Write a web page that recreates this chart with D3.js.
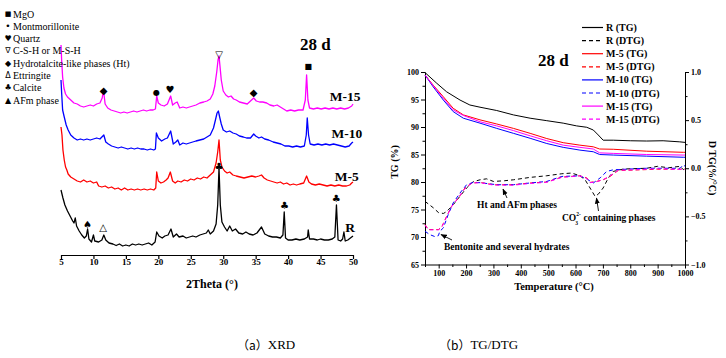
<!DOCTYPE html>
<html><head><meta charset="utf-8">
<script src="https://cdn.jsdelivr.net/npm/d3@7"></script>
<style>
body{margin:0;background:#fff;}
svg{display:block;font-family:"Liberation Serif","Times New Roman",serif;}
</style></head>
<body><svg id="c" width="726" height="358"></svg>
<script>
// ---------------- XRD data (2Theta, stacked intensity a.u.) ----------------
const xrdTicks = [5,10,15,20,25,30,35,40,45,50];
const xrdR = [[5.0,65],[5.3,57],[5.6,50],[6.0,44],[6.4,39],[6.8,34],[7.0,32],[7.2,37],[7.4,29],[7.8,24],[8.2,20],[8.6,17],[8.9,19],[9.1,26],[9.3,16],[9.7,13],[10.0,20],[10.2,14],[10.8,13],[11.3,15],[11.6,20],[11.9,15],[12.4,12],[13.0,11],[13.5,9.5],[14.0,11],[14.5,9],[15.0,10],[15.5,9],[16.0,11],[16.5,10],[17.0,11],[17.5,10],[18.0,11],[18.5,12],[19.0,10],[19.5,13],[19.75,23],[20.1,19],[20.6,17],[21.0,19],[21.5,20],[21.95,26],[22.3,18],[22.8,21],[23.2,18],[23.8,19],[24.3,17],[24.8,18],[25.3,19],[25.8,18],[26.4,20],[26.9,21],[27.4,22],[27.7,25],[28.0,21],[28.5,24],[28.9,31],[29.15,50],[29.35,87],[29.55,50],[29.8,33],[30.2,28],[30.6,24],[31.0,29],[31.4,24],[31.9,26],[32.4,22],[33.0,21],[33.5,23],[34.0,21],[34.6,20],[35.2,22],[35.9,28],[36.4,21],[37.0,19],[37.6,18],[38.2,18],[38.8,17],[39.2,20],[39.4,43],[39.6,17],[40.0,15],[40.6,15],[41.2,16],[41.8,15],[42.5,16],[43.0,18],[43.1,25],[43.3,16],[43.9,16],[44.5,15],[45.0,16],[45.6,15],[46.2,15],[46.8,16],[47.2,18],[47.45,50],[47.7,15],[48.1,14],[48.4,16],[48.6,23],[48.8,14],[49.2,15],[49.6,17],[50.0,19]];
const xrdM5 = [[5.0,128],[5.15,120],[5.3,105],[5.5,95],[5.7,88],[5.9,85],[6.1,81],[6.5,78],[7.0,76],[7.5,74],[8.0,73],[8.5,75],[9.0,73],[9.5,74],[10.0,72],[10.5,73],[10.8,69],[11.3,68],[11.8,69],[12.3,67],[12.8,68],[13.3,66],[13.8,67],[14.3,65],[14.8,67],[15.3,65],[15.8,66],[16.3,65],[16.8,66],[17.3,65],[17.8,66],[18.3,65],[18.8,66],[19.3,65],[19.6,67],[19.75,83],[20.0,74],[20.4,72],[20.8,73],[21.2,75],[21.5,77],[21.85,83],[22.2,74],[22.6,72],[23.0,74],[23.5,73],[24.0,75],[24.5,74],[25.0,76],[25.5,75],[26.0,77],[26.5,76],[27.0,78],[27.5,77],[28.0,80],[28.5,83],[28.9,92],[29.15,103],[29.35,115],[29.55,95],[29.8,88],[30.2,84],[30.6,82],[31.0,83],[31.5,80],[32.0,79],[32.6,78],[33.2,77],[33.8,78],[34.4,79],[35.0,78],[35.5,79],[35.9,80],[36.3,77],[36.8,75],[37.3,74],[37.8,73],[38.3,72],[38.8,73],[39.3,71],[39.8,72],[40.3,70],[40.8,71],[41.3,70],[41.8,71],[42.4,72],[42.85,79],[43.2,73],[43.6,71],[44.2,70],[44.8,71],[45.4,70],[46.0,69],[46.6,70],[47.2,69],[47.8,70],[48.4,69],[49.0,69],[49.5,70],[49.8,72],[50.0,73]];
const xrdM10 = [[5.0,175],[5.1,162],[5.25,145],[5.5,138],[5.8,130],[6.1,125],[6.5,120],[7.0,117],[7.5,115],[8.0,116],[8.5,115],[9.0,116],[9.5,115],[10.0,116],[10.5,117],[11.0,116],[11.6,120],[11.9,113],[12.3,111],[12.8,109],[13.3,108],[13.8,107],[14.3,108],[14.8,107],[15.3,106],[15.8,107],[16.3,106],[16.8,107],[17.3,106],[17.8,106],[18.3,105],[18.8,106],[19.3,105],[19.55,106],[19.7,122],[20.0,117],[20.5,114],[21.0,116],[21.4,117],[21.9,124],[22.3,111],[22.7,113],[23.0,115],[23.3,110],[23.8,112],[24.3,111],[24.8,112],[25.3,113],[25.8,114],[26.4,115],[27.0,116],[27.5,118],[28.0,120],[28.5,127],[28.8,135],[29.05,142],[29.25,144],[29.45,138],[29.7,131],[30.0,125],[30.5,123],[31.0,124],[31.5,122],[32.0,121],[32.5,119],[33.1,118],[33.6,117],[34.2,117],[34.7,121],[35.0,119],[35.5,117],[35.9,118],[36.4,116],[37.0,115],[37.7,113],[38.3,112],[38.9,111],[39.5,109],[40.1,109],[40.7,108],[41.3,109],[41.9,108],[42.5,109],[42.8,120],[42.95,137],[43.15,120],[43.4,111],[44.0,110],[44.6,111],[45.2,110],[45.8,111],[46.4,110],[47.0,111],[47.6,110],[48.2,109],[48.8,108],[49.4,109],[49.8,112],[50.0,113]];
const xrdM15 = [[5.0,210],[5.1,195],[5.25,178],[5.45,167],[5.7,161],[6.0,158],[6.5,155],[7.0,152],[7.5,151],[8.0,149],[8.5,148],[9.0,149],[9.5,150],[10.0,149],[10.5,151],[11.0,152],[11.35,157],[11.55,165],[11.8,151],[12.2,147],[12.7,145],[13.2,144],[13.7,143],[14.2,142],[14.7,143],[15.2,142],[15.7,143],[16.2,144],[16.7,143],[17.2,144],[17.7,145],[18.2,144],[18.7,145],[19.2,145],[19.55,146],[19.75,159],[20.0,152],[20.4,150],[20.9,149],[21.4,151],[21.9,159],[22.2,150],[22.6,152],[22.9,153],[23.3,147],[23.8,148],[24.3,147],[24.8,148],[25.3,149],[25.8,150],[26.4,152],[27.0,153],[27.5,154],[28.0,156],[28.4,161],[28.7,169],[29.0,183],[29.2,195],[29.35,199],[29.5,189],[29.7,175],[30.0,164],[30.4,160],[30.8,158],[31.2,159],[31.6,156],[32.0,155],[32.5,153],[33.1,152],[33.7,151],[34.2,154],[34.7,157],[35.1,154],[35.6,153],[36.1,153],[36.7,152],[37.2,150],[37.8,149],[38.3,150],[38.8,148],[39.3,146],[39.8,144],[40.4,145],[41.0,144],[41.6,145],[42.3,145],[42.65,155],[42.85,180],[43.05,155],[43.3,147],[43.9,146],[44.5,147],[45.1,146],[45.7,147],[46.3,146],[46.9,147],[47.5,146],[48.1,147],[48.7,146],[49.3,147],[49.8,149],[50.0,151]];
const xrdSeries = [
  {name:"R", data:xrdR, color:"#000000"},
  {name:"M-5", data:xrdM5, color:"#ff0000"},
  {name:"M-10", data:xrdM10, color:"#0000ff"},
  {name:"M-15", data:xrdM15, color:"#ff00ff"}
];
// series labels: [label, 2Theta, intensity]
const xrdLabels = [["M-15",48.8,159],["M-10",49.05,122],["M-5",49.05,79],["R",49.55,28]];
// peak markers: [symbol, 2Theta, intensity]
const xrdMarks = [["■",43.1,189],["▽",29.35,201],["◆",34.7,163],["◆",11.55,165],["●",19.7,163],["♥",21.8,166],["♣",29.35,89],["♣",39.45,50],["♣",47.4,57],["♠",9.1,31],["△",11.5,28]];
const xrdLegend = [["■","MgO"],["•","Montmorillonite"],["♥","Quartz"],["∇","C-S-H or M-S-H"],["◆","Hydrotalcite-like phases (Ht)"],["Δ","Ettringite"],["♣","Calcite"],["▲","AFm phase"]];

// ---------------- TG / DTG data ----------------
const tgXTicks = [100,200,300,400,500,600,700,800,900,1000];
const tgYTicks = [65,70,75,80,85,90,95,100];
const dtgTicks = [-1.0,-0.5,0.0,0.5,1.0];
const tempR = [50,93,129,178,214,251,312,373,434,495,555,604,641,665,683,701,738,800,860,920,981,1000];
const tgR   = [99.9,97.95,96.4,94.9,94.0,93.6,93.0,92.2,91.6,91.15,90.7,90.2,89.95,89.45,88.55,87.6,87.6,87.5,87.45,87.5,87.3,87.2];
const tempM = [50,80,117,153,190,251,312,373,434,495,555,616,665,688,738,860,994,1000];
const tgM5  = [99.45,97.6,95.5,93.4,92.2,91.3,90.55,89.75,88.85,87.9,87.15,86.7,86.4,86.0,85.95,85.6,85.4,85.4];
const tgM10 = [99.45,97.3,94.9,92.8,91.6,90.7,89.75,88.85,87.95,87.0,86.3,85.8,85.5,85.0,84.9,84.7,84.5,84.5];
const tgM15 = [99.45,97.5,95.2,93.1,92.1,90.95,90.2,89.35,88.4,87.5,86.7,86.3,86.0,85.3,85.2,85.0,84.9,84.9];
const dtempR = [50,80,99,117,129,153,178,202,226,251,275,300,340,373,434,495,550,586,616,635,653,671,683,701,720,738,775,860,900,940,982,994,1000];
const dtgR   = [-0.344,-0.41,-0.46,-0.47,-0.45,-0.38,-0.29,-0.205,-0.14,-0.12,-0.11,-0.137,-0.13,-0.12,-0.095,-0.078,-0.057,-0.05,-0.078,-0.12,-0.205,-0.29,-0.27,-0.205,-0.10,-0.033,-0.008,0.0,0.02,0.005,0.02,-0.015,0.0];
const dtempM = [50,62,99,111,129,147,172,196,221,251,300,373,434,495,550,616,641,653,677,701,726,756,799,900,982,1000];
const dtgM5  = [-0.585,-0.637,-0.637,-0.61,-0.5,-0.396,-0.31,-0.205,-0.153,-0.147,-0.171,-0.171,-0.153,-0.143,-0.091,-0.078,-0.10,-0.147,-0.137,-0.12,-0.085,-0.023,-0.02,-0.01,-0.01,-0.01];
const dtgM15 = [-0.59,-0.64,-0.64,-0.615,-0.505,-0.40,-0.305,-0.21,-0.155,-0.15,-0.175,-0.176,-0.158,-0.146,-0.095,-0.08,-0.105,-0.15,-0.14,-0.118,-0.08,-0.02,-0.018,-0.005,-0.012,-0.012];
const dtempM10 = [50,68,86,99,104,117,135,153,178,202,226,251,312,373,434,495,550,616,641,665,690,714,738,860,982,994,1000];
const dtgM10   = [-0.655,-0.69,-0.71,-0.70,-0.655,-0.62,-0.48,-0.36,-0.257,-0.171,-0.147,-0.15,-0.171,-0.171,-0.153,-0.137,-0.085,-0.078,-0.112,-0.153,-0.10,-0.033,-0.016,0.0,0.0,0.036,0.02];
const tgSeries = [
  {label:"R (TG)",   t:tempR,   v:tgR,   color:"#000000", dash:null, axis:"tg"},
  {label:"R (DTG)",  t:dtempR,  v:dtgR,  color:"#000000", dash:"4,3", axis:"dtg"},
  {label:"M-5 (TG)", t:tempM,   v:tgM5,  color:"#ff0000", dash:null, axis:"tg"},
  {label:"M-5 (DTG)",t:dtempM,  v:dtgM5, color:"#ff0000", dash:"4,3", axis:"dtg"},
  {label:"M-10 (TG)",t:tempM,   v:tgM10, color:"#0000ff", dash:null, axis:"tg"},
  {label:"M-10 (DTG)",t:dtempM10,v:dtgM10,color:"#0000ff", dash:"4,3", axis:"dtg"},
  {label:"M-15 (TG)",t:tempM,   v:tgM15, color:"#ff00ff", dash:null, axis:"tg"},
  {label:"M-15 (DTG)",t:dtempM, v:dtgM15,color:"#ff00ff", dash:"4,3", axis:"dtg"}
];

const svg = d3.select("#c");
const defs = svg.append("defs");
defs.append("marker").attr("id","ah").attr("viewBox","0 0 10 10").attr("refX",9).attr("refY",5)
  .attr("markerWidth",7).attr("markerHeight",7).attr("orient","auto-start-reverse")
  .append("path").attr("d","M0,1 L10,5 L0,9 z").attr("fill","#000");

// ================= XRD panel =================
const xX = d3.scaleLinear().domain([5,50]).range([61,353]);
const xY = d3.scaleLinear().domain([0,210]).range([255,45]);
const gX = svg.append("g");
const xLine = d3.line().x(d=>xX(d[0])).y(d=>xY(d[1]));
xrdSeries.forEach(s=>{
  gX.append("path").attr("d",xLine(s.data)).attr("fill","none")
    .attr("stroke",s.color).attr("stroke-width",1.3).attr("stroke-linejoin","round");
});
const xAxis = d3.axisBottom(xX).tickValues(xrdTicks).tickSize(4).tickSizeOuter(0).tickFormat(d3.format("d"));
const xa = gX.append("g").attr("transform","translate(0,255)").call(xAxis);
xa.select(".domain").attr("stroke","#000").attr("stroke-width",1.2);
xa.selectAll(".tick line").attr("stroke-width",1.2);
xa.selectAll("text").attr("font-size",9).attr("font-weight","bold")
  .style("font-family","'Liberation Serif', serif").attr("dy","0.55em").attr("y",5);
gX.append("text").attr("x",212).attr("y",288).attr("text-anchor","middle")
  .attr("font-size",12).attr("font-weight","bold").text("2Theta (°)");
xrdLabels.forEach(l=>{
  gX.append("text").attr("x",xX(l[1])).attr("y",xY(l[2])).attr("font-size",13.5).attr("font-weight","bold")
    .attr("text-anchor","middle").attr("dominant-baseline","central").text(l[0]);
});
xrdMarks.forEach(m=>{
  gX.append("text").attr("x",xX(m[1])).attr("y",xY(m[2])).attr("text-anchor","middle")
    .attr("dominant-baseline","central").style("font-family","'DejaVu Sans', sans-serif")
    .attr("font-size", m[0]==="●"?8:(m[0]==="■"?8:10)).text(m[0]);
});
xrdLegend.forEach((l,i)=>{
  const y = 14 + i*12.3;
  gX.append("text").attr("x",8).attr("y",y).attr("text-anchor","middle").attr("dominant-baseline","central")
    .style("font-family","'DejaVu Sans', sans-serif").attr("font-size", (l[0]==="■")?7:(l[0]==="•"?9:8)).text(l[0]);
  gX.append("text").attr("x",13).attr("y",y).attr("dominant-baseline","central")
    .attr("font-size",10).text(l[1]);
});
gX.append("text").attr("x",300).attr("y",50).attr("font-size",17).attr("font-weight","bold").text("28 d");

// ================= TG/DTG panel =================
const tX = d3.scaleLinear().domain([50,1000]).range([425,685]);
const tY = d3.scaleLinear().domain([65,100]).range([264.5,72]);
const dY = d3.scaleLinear().domain([-1,1]).range([264.5,72]);
const gT = svg.append("g");
function styleAxis(a){
  a.select(".domain").attr("stroke","#000").attr("stroke-width",1);
  a.selectAll("text").attr("font-size",8).attr("font-weight","bold").style("font-family","'Liberation Serif', serif");
}
const bMinor = gT.append("g").attr("transform","translate(0,264.5)")
  .call(d3.axisBottom(tX).tickValues(d3.range(50,1001,100)).tickSize(2.5).tickFormat(""));
bMinor.select(".domain").remove();
const lMinor = gT.append("g").attr("transform","translate(425,0)")
  .call(d3.axisLeft(tY).tickValues(d3.range(67.5,100,5)).tickSize(2.5).tickFormat(""));
lMinor.select(".domain").remove();
const rMinor = gT.append("g").attr("transform","translate(685,0)")
  .call(d3.axisRight(dY).tickValues([-0.75,-0.25,0.25,0.75]).tickSize(2.5).tickFormat(""));
rMinor.select(".domain").remove();
const ba = gT.append("g").attr("transform","translate(0,264.5)")
  .call(d3.axisBottom(tX).tickValues(tgXTicks).tickSize(4).tickSizeOuter(0).tickFormat(d3.format("d")));
styleAxis(ba); ba.selectAll("text").attr("y",6);
const la = gT.append("g").attr("transform","translate(425,0)")
  .call(d3.axisLeft(tY).tickValues(tgYTicks).tickSize(4).tickSizeOuter(0).tickFormat(d3.format("d")));
styleAxis(la); la.selectAll("text").attr("x",-6);
const ra = gT.append("g").attr("transform","translate(685,0)")
  .call(d3.axisRight(dY).tickValues(dtgTicks).tickSize(4).tickSizeOuter(0).tickFormat(d3.format(".1f")));
styleAxis(ra); ra.selectAll("text").attr("x",6);

tgSeries.forEach(s=>{
  const sc = s.axis==="tg"?tY:dY;
  const pts = s.t.map((t,i)=>[t,s.v[i]]);
  const ln = d3.line().x(d=>tX(d[0])).y(d=>sc(d[1]));
  const p = gT.append("path").attr("d",ln(pts)).attr("fill","none")
    .attr("stroke",s.color).attr("stroke-width",1);
  if(s.dash) p.attr("stroke-dasharray",s.dash);
});
tgSeries.forEach((s,i)=>{
  const y = 27.5 + i*13.1;
  const l = gT.append("line").attr("x1",582).attr("x2",603).attr("y1",y).attr("y2",y)
    .attr("stroke",s.color).attr("stroke-width",1.2);
  if(s.dash) l.attr("stroke-dasharray","4,3");
  gT.append("text").attr("x",606).attr("y",y).attr("dominant-baseline","central")
    .attr("font-size",10).attr("font-weight","bold").text(s.label);
});
gT.append("text").attr("x",538).attr("y",66).attr("font-size",17).attr("font-weight","bold").text("28 d");
gT.append("text").attr("transform","translate(398,162) rotate(-90)").attr("text-anchor","middle")
  .attr("font-size",10).attr("font-weight","bold").text("TG (%)");
gT.append("text").attr("transform","translate(709,168) rotate(90)").attr("text-anchor","middle")
  .attr("font-size",10).attr("font-weight","bold").text("D TG(%/°C)");
gT.append("text").attr("x",554).attr("y",290).attr("text-anchor","middle")
  .attr("font-size",10.5).attr("font-weight","bold").text("Temperature (°C)");
// annotations
gT.append("text").attr("x",517).attr("y",205).attr("text-anchor","middle").attr("dominant-baseline","central")
  .attr("font-size",9.5).attr("font-weight","bold").text("Ht and AFm phases");
gT.append("line").attr("x1",507).attr("y1",198).attr("x2",503).attr("y2",189)
  .attr("stroke","#000").attr("stroke-width",0.9).attr("marker-end","url(#ah)");
const co = gT.append("text").attr("x",562).attr("y",221).attr("font-size",9.5).attr("font-weight","bold");
co.append("tspan").text("CO");
co.append("tspan").attr("font-size",5.5).attr("dy",-5).text("2-");
co.append("tspan").attr("font-size",5.5).attr("dx",-5.5).attr("dy",8.5).text("3");
co.append("tspan").attr("dy",-3.5).attr("dx",3).text(" containing phases");
gT.append("line").attr("x1",598.5).attr("y1",211).attr("x2",596.5).attr("y2",198)
  .attr("stroke","#000").attr("stroke-width",0.9).attr("marker-end","url(#ah)");
gT.append("text").attr("x",444).attr("y",247).attr("dominant-baseline","central")
  .attr("font-size",9.5).attr("font-weight","bold").text("Bentonite and several hydrates");
gT.append("line").attr("x1",452).attr("y1",240).attr("x2",441).attr("y2",234.5)
  .attr("stroke","#000").attr("stroke-width",0.9).attr("marker-end","url(#ah)");

// captions
const capA = svg.append("text").attr("x",237).attr("y",344).attr("dominant-baseline","central").attr("font-size",13);
capA.append("tspan").style("font-family","'Noto Sans CJK SC', sans-serif").attr("font-size",12).text("（a）");
capA.append("tspan").style("font-family","'Liberation Serif', serif").text("XRD");
const capB = svg.append("text").attr("x",439).attr("y",344).attr("dominant-baseline","central").attr("font-size",13);
capB.append("tspan").style("font-family","'Noto Sans CJK SC', sans-serif").attr("font-size",12).text("（b）");
capB.append("tspan").style("font-family","'Liberation Serif', serif").text("TG/DTG");
</script></body></html>
